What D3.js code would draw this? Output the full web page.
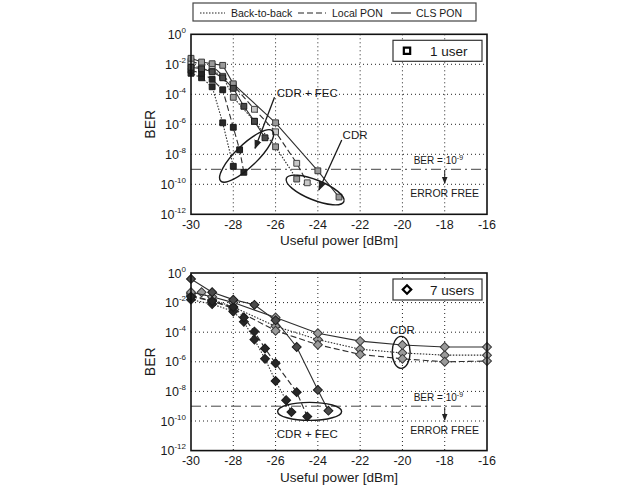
<!DOCTYPE html>
<html lang="en">
<head>
<meta charset="UTF-8">
<title>BER vs useful power</title>
<script src="https://d3js.org/d3.v7.min.js"></script>
<style>
  body { margin: 0; background: #fff; }
  text { font-family: "Liberation Sans", Arial, sans-serif; fill: #1a1a1a; }
</style>
</head>
<body>
<svg id="chart" width="617" height="489"></svg>
<script>
// tick values
const xTicks = [-30, -28, -26, -24, -22, -20, -18, -16];
const yExps = [0, -2, -4, -6, -8, -10, -12];
const legendNames = ["Back-to-back", "Local PON", "CLS PON"];
const thresholdExp = -9;

// 1 user, [power dBm, log10(BER)]
const user1FecB2b = [[-30,-2.6],[-29.5,-2.9],[-29,-3.5],[-28.5,-5.9],[-28,-8.8]];
const user1FecLocal = [[-30,-2.4],[-29.5,-2.6],[-29,-3.0],[-28.5,-3.7],[-28,-6.2],[-27.7,-7.7],[-27.5,-9.2]];
const user1FecCls = [[-30,-2.2],[-29.5,-2.3],[-29,-2.5],[-28.5,-2.9],[-28,-3.6],[-27.5,-4.8],[-27,-5.8],[-26.5,-6.9]];
const user1CdrB2b = [[-30,-2.0],[-29.5,-2.3],[-29,-2.4],[-28.5,-2.8],[-28,-4.2],[-27,-5.8],[-26,-7.5],[-25,-9.65]];
const user1CdrLocal = [[-30,-1.8],[-29.5,-2.0],[-29,-2.1],[-28,-3.4],[-27,-5.0],[-26,-6.5],[-25,-8.6],[-24.5,-9.9]];
const user1CdrCls = [[-30,-1.6],[-29.5,-1.85],[-29,-1.96],[-28.5,-2.07],[-28,-3.3],[-26,-5.9],[-24,-9.1],[-23,-10.85]];

// 7 users
const user7FecB2b = [[-30,-1.8],[-29,-2.1],[-28,-2.6],[-27.5,-3.3],[-27,-4.5],[-26.5,-5.8],[-26,-7.3],[-25.5,-8.6],[-25.25,-9.4]];
const user7FecLocal = [[-30,-1.6],[-29,-1.9],[-28,-2.3],[-27.5,-3.0],[-27,-3.96],[-26.5,-5.1],[-26,-6.1],[-25,-8.05],[-24.5,-9.7]];
const user7FecCls = [[-30,-0.4],[-29,-1.3],[-28,-1.8],[-27,-2.15],[-26,-3.2],[-25,-5.0],[-24,-7.9],[-23.5,-9.3]];
const user7CdrB2b = [[-30,-1.4],[-29.5,-1.3],[-29,-1.8],[-28,-2.3],[-26,-3.6],[-24,-4.5],[-22,-5.15],[-20,-5.4],[-18,-5.55],[-16,-5.55]];
const user7CdrLocal = [[-30,-1.5],[-29,-1.9],[-28,-2.4],[-26,-3.9],[-24,-4.85],[-22,-5.5],[-20,-5.8],[-18,-6.0],[-16,-5.95]];
const user7CdrCls = [[-30,-1.3],[-29,-1.6],[-28,-2.0],[-26,-3.0],[-24,-4.07],[-22,-4.6],[-20,-4.86],[-18,-5.0],[-16,-5.0]];

const dashes = { b2b: "1.5,1.5", local: "6,3", cls: null };

const svg = d3.select("#chart");

svg.append("defs").append("marker")
    .attr("id", "arrow")
    .attr("viewBox", "0 0 10 10")
    .attr("refX", 9).attr("refY", 5)
    .attr("markerWidth", 7).attr("markerHeight", 7)
    .attr("orient", "auto")
  .append("path")
    .attr("d", "M0,1 L10,5 L0,9 Z")
    .attr("fill", "#222");

// top legend
const lg = svg.append("g");
lg.append("rect").attr("x", 193).attr("y", 3).attr("width", 283).attr("height", 18)
  .attr("fill", "#fff").attr("stroke", "#444").attr("stroke-width", 1.2);
const legendX = [[200, 225, 231], [298, 326, 332], [391, 411, 416]];
["b2b", "local", "cls"].forEach((k, i) => {
  lg.append("line").attr("x1", legendX[i][0]).attr("x2", legendX[i][1])
    .attr("y1", 13).attr("y2", 13).attr("stroke", "#222").attr("stroke-width", 1.1)
    .attr("stroke-dasharray", dashes[k]);
  lg.append("text").attr("x", legendX[i][2]).attr("y", 16.5)
    .attr("font-size", 10.5).text(legendNames[i]);
});

function drawPanel(cfg) {
  const x = d3.scaleLinear().domain([-30, -16]).range([191, 487]);
  const y = d3.scaleLog().domain([1e-12, 1]).range([cfg.bottom, cfg.top]);
  const yv = e => y(Math.pow(10, e));
  const g = svg.append("g");

  // grid
  g.append("g").selectAll("line").data(xTicks.slice(1, -1)).join("line")
    .attr("x1", d => x(d)).attr("x2", d => x(d))
    .attr("y1", cfg.top).attr("y2", cfg.bottom)
    .attr("stroke", "#222").attr("stroke-width", 1).attr("stroke-dasharray", "1,3");
  g.append("g").selectAll("line").data(yExps.slice(1, -1)).join("line")
    .attr("x1", x(-30)).attr("x2", x(-16))
    .attr("y1", d => yv(d)).attr("y2", d => yv(d))
    .attr("stroke", "#222").attr("stroke-width", 1).attr("stroke-dasharray", "1,3");

  // threshold BER = 1e-9
  const ty = yv(thresholdExp);
  g.append("line").attr("x1", x(-30)).attr("x2", x(-16)).attr("y1", ty).attr("y2", ty)
    .attr("stroke", "#444").attr("stroke-width", 1).attr("stroke-dasharray", "10,4,2,4");
  const bt = g.append("text").attr("x", x(-18.3)).attr("y", ty - 5)
    .attr("text-anchor", "middle").attr("font-size", 10);
  bt.append("tspan").text("BER = 10");
  bt.append("tspan").attr("dy", -4).attr("font-size", 7).text("-9");
  g.append("line").attr("x1", x(-18)).attr("x2", x(-18)).attr("y1", ty + 1).attr("y2", ty + 14)
    .attr("stroke", "#222").attr("stroke-width", 1).attr("marker-end", "url(#arrow)");
  g.append("text").attr("x", x(-18)).attr("y", ty + 28).attr("text-anchor", "middle")
    .attr("font-size", 10.5).text("ERROR FREE");

  // series
  const line = d3.line().x(d => x(d[0])).y(d => yv(d[1]));
  const sym = d3.symbol().type(cfg.symbol).size(cfg.symbolSize);
  cfg.series.forEach(s => {
    g.append("path").datum(s.data).attr("d", line)
      .attr("fill", "none").attr("stroke", "#2e2e2e").attr("stroke-width", 1.1)
      .attr("stroke-dasharray", dashes[s.style]);
    g.append("g").selectAll("path").data(s.data).join("path")
      .attr("transform", d => `translate(${x(d[0])},${yv(d[1])})${cfg.rotate ? " rotate(45)" : ""}`)
      .attr("d", sym)
      .attr("fill", s.fill).attr("stroke", s.stroke).attr("stroke-width", 1);
  });

  // annotations
  cfg.ellipses.forEach(e => {
    g.append("ellipse")
      .attr("transform", `translate(${x(e.x)},${yv(e.y)}) rotate(${e.rot})`)
      .attr("rx", e.rx).attr("ry", e.ry)
      .attr("fill", "none").attr("stroke", "#1a1a1a").attr("stroke-width", 1.4);
  });
  cfg.arrows.forEach(a => {
    g.append("line").attr("x1", x(a.x1)).attr("y1", yv(a.y1))
      .attr("x2", x(a.x2)).attr("y2", yv(a.y2))
      .attr("stroke", "#1a1a1a").attr("stroke-width", 1.3).attr("marker-end", "url(#arrow)");
  });
  cfg.labels.forEach(l => {
    g.append("text").attr("x", x(l.x)).attr("y", yv(l.y)).attr("dy", "0.35em")
      .attr("text-anchor", "middle").attr("font-size", 11.5).text(l.text);
  });

  // user box
  const bx = 393, by = cfg.top + 6;
  g.append("rect").attr("x", bx).attr("y", by).attr("width", 89).attr("height", 21)
    .attr("fill", "#fff").attr("stroke", "#333").attr("stroke-width", 1.2);
  g.append("path")
    .attr("transform", `translate(${bx + 14},${by + 10.5})${cfg.rotate ? " rotate(45)" : ""}`)
    .attr("d", d3.symbol().type(d3.symbolSquare).size(cfg.rotate ? 36 : 40))
    .attr("fill", "#fff").attr("stroke", "#000").attr("stroke-width", 2.2);
  g.append("text").attr("x", bx + 37).attr("y", by + 15.5).attr("font-size", 13.5).text(cfg.boxLabel);

  // frame
  g.append("rect").attr("x", x(-30)).attr("y", cfg.top)
    .attr("width", x(-16) - x(-30)).attr("height", cfg.bottom - cfg.top)
    .attr("fill", "none").attr("stroke", "#111").attr("stroke-width", 1.6);

  // tick labels
  g.append("g").selectAll("text").data(xTicks).join("text")
    .attr("x", d => x(d)).attr("y", cfg.bottom + 14.5)
    .attr("text-anchor", "middle").attr("font-size", 12.5).text(d => d);
  const yl = g.append("g").selectAll("text").data(yExps).join("text")
    .attr("x", 186).attr("y", d => yv(d) + 4.5)
    .attr("text-anchor", "end").attr("font-size", 12.5);
  yl.append("tspan").text("10");
  yl.append("tspan").attr("dy", -6).attr("font-size", 8).text(d => d);

  // axis titles
  g.append("text").attr("x", 339).attr("y", cfg.bottom + 31)
    .attr("text-anchor", "middle").attr("font-size", 13.5).text("Useful power [dBm]");
  const my = (cfg.top + cfg.bottom) / 2;
  g.append("text").attr("transform", `translate(155,${my}) rotate(-90)`)
    .attr("text-anchor", "middle").attr("font-size", 14).text("BER");
}

const fecSq = { fill: "#262626", stroke: "#1a1a1a" };
const cdrSq = { fill: "#9a9a9a", stroke: "#3a3a3a" };

drawPanel({
  top: 34.3, bottom: 214.3, symbol: d3.symbolSquare, symbolSize: 34, rotate: false,
  boxLabel: "1 user",
  series: [
    { data: user1CdrB2b, style: "b2b", ...cdrSq },
    { data: user1CdrLocal, style: "local", fill: "#c8c8c8", stroke: "#444" },
    { data: user1CdrCls, style: "cls", ...cdrSq },
    { data: user1FecB2b, style: "b2b", ...fecSq },
    { data: user1FecLocal, style: "local", ...fecSq },
    { data: user1FecCls, style: "cls", fill: "#4a4a4a", stroke: "#1a1a1a" }
  ],
  ellipses: [
    { x: -27.37, y: -8.11, rx: 36, ry: 11, rot: -44 },
    { x: -24.13, y: -10.38, rx: 31, ry: 10, rot: 22 }
  ],
  arrows: [
    { x1: -26.05, y1: -4.2, x2: -26.97, y2: -7.6 },
    { x1: -22.87, y1: -7.05, x2: -23.95, y2: -10.38 }
  ],
  labels: [
    { x: -24.5, y: -3.9, text: "CDR + FEC" },
    { x: -22.24, y: -6.7, text: "CDR" }
  ]
});

drawPanel({
  top: 273, bottom: 450.6, symbol: d3.symbolSquare, symbolSize: 40, rotate: true,
  boxLabel: "7 users",
  series: [
    { data: user7CdrB2b, style: "b2b", ...cdrSq },
    { data: user7CdrLocal, style: "local", ...cdrSq },
    { data: user7CdrCls, style: "cls", ...cdrSq },
    { data: user7FecB2b, style: "b2b", ...fecSq },
    { data: user7FecLocal, style: "local", ...fecSq },
    { data: user7FecCls, style: "cls", fill: "#4a4a4a", stroke: "#1a1a1a" }
  ],
  ellipses: [
    { x: -20.06, y: -5.36, rx: 9, ry: 16, rot: 0 },
    { x: -24.39, y: -9.35, rx: 32, ry: 9, rot: 0 }
  ],
  arrows: [],
  labels: [
    { x: -20.0, y: -3.82, text: "CDR" },
    { x: -24.5, y: -10.9, text: "CDR + FEC" }
  ]
});
</script>
</body>
</html>
